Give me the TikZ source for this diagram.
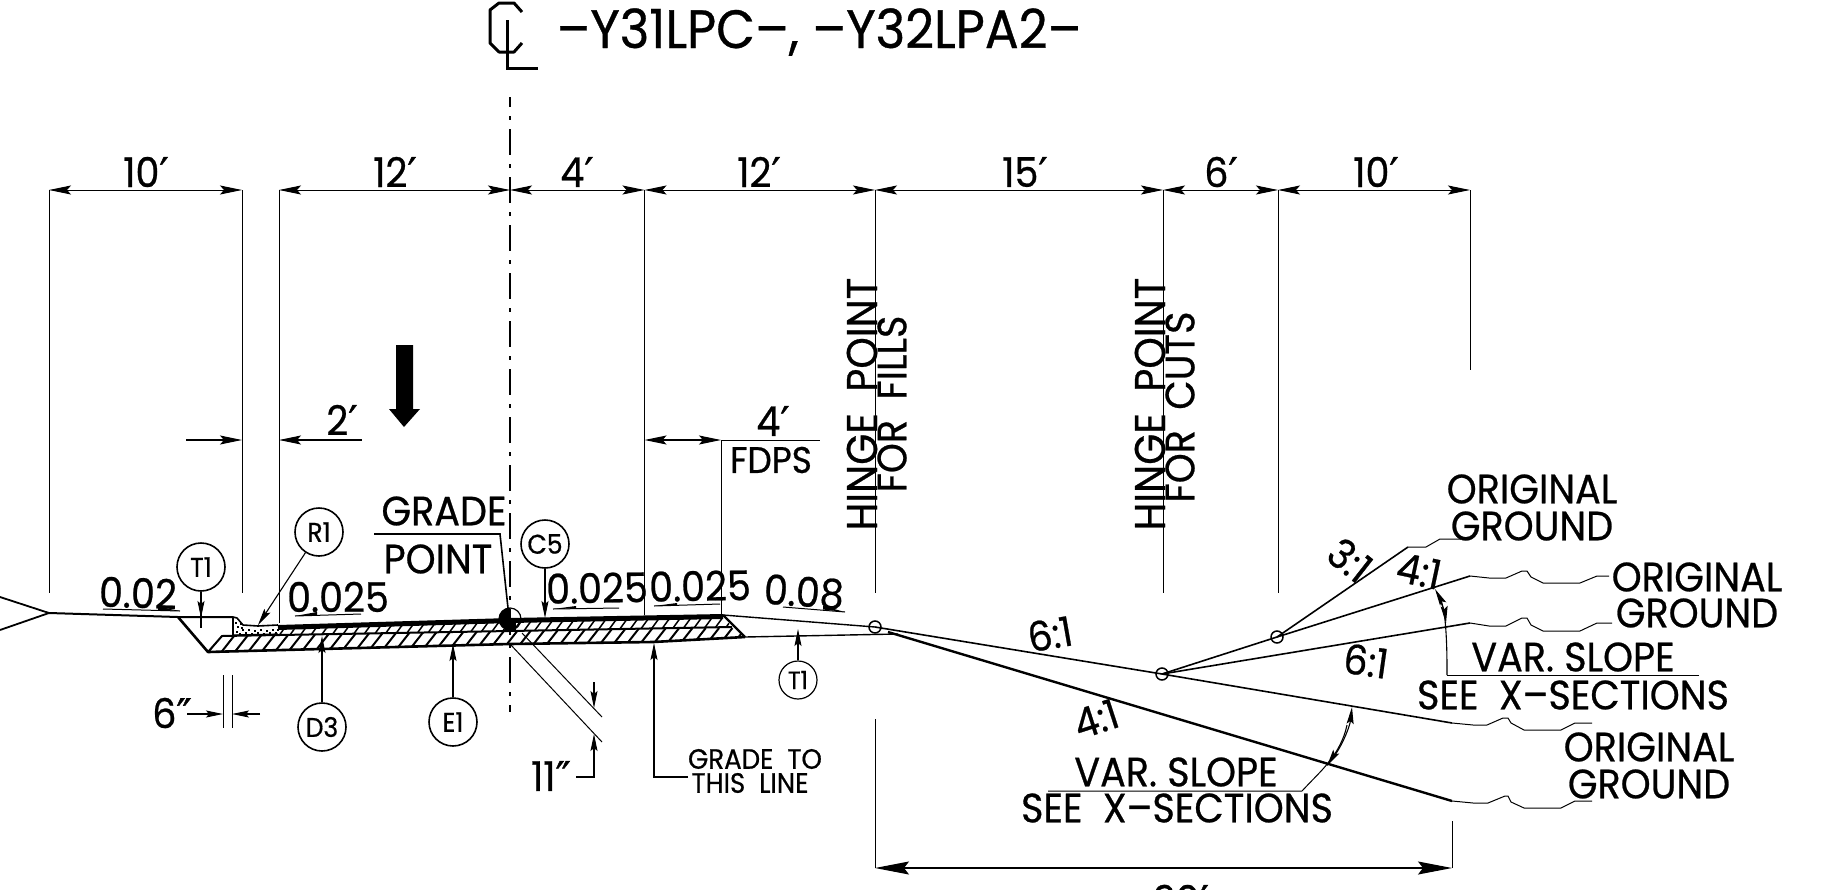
\documentclass[tikz,border=0pt]{standalone}
\usepackage{fontspec}
\usetikzlibrary{arrows.meta,patterns,calc}
\setmainfont[FakeBold=0.6,FakeStretch=0.93]{Poppins}
\newfontfamily\prmfont[FakeBold=1]{DejaVu Sans}
\newcommand{\pr}{{\prmfont\char"2032}}
\newcommand{\dpr}{{\prmfont\char"2033}}
\tikzset{
  x=1pt,y=-1pt,
  dimtip/.tip={Stealth[length=22pt,width=9pt,inset=4pt]},
  smalltip/.tip={Stealth[length=17pt,width=7pt,inset=3pt]},
  bigtip/.tip={Stealth[length=34pt,width=13pt,inset=5pt]},
  dimline/.style={line width=1pt,dimtip-dimtip},
  ext/.style={line width=1pt},
  lead/.style={line width=1.1pt,-smalltip},
  ground/.style={line width=1pt,line join=round},
  road/.style={line width=2.6pt,line join=round},
  bubble/.style={circle,draw,line width=1.6pt,minimum size=48pt,inner sep=0pt,font=\fontsize{27}{27}\selectfont},
  smallbubble/.style={circle,draw,line width=1.2pt,minimum size=38pt,inner sep=0pt,font=\fontsize{25}{25}\selectfont},
  hinge/.style={circle,draw,line width=1.5pt,minimum size=12pt,inner sep=0pt},
  lab/.style={inner sep=0pt,font=\fontsize{41}{41}\selectfont},
  slope/.style={inner sep=0pt,font=\fontsize{41}{41}\selectfont},
  small/.style={inner sep=0pt,font=\fontsize{28}{28}\selectfont},
}
\begin{document}
\begin{tikzpicture}[x=1pt,y=-1pt]
\useasboundingbox (0,0) rectangle (1831,889);
\clip (0,0) rectangle (1831,889);
\fill[white] (0,0) rectangle (1831,889);
% centreline symbol and title
\draw[line width=3pt,line join=bevel] (522,12)--(514,3)--(499,3)--(490,10)--(490,43)--(499,52)--(514,52)--(522,43);
\draw[line width=3pt,line join=miter] (507,20)--(507,68)--(538,68);
\node[inner sep=0pt,font=\fontsize{54}{54}\selectfont] (title) at (819,32) {–Y31LPC–, –Y32LPA2–};
% dimension line
\foreach \n/\xx in {a/49,b/242,c/279,d/510,e/644.5,f/875,g/1163,h/1278,i/1470}{\coordinate (t\n) at (\xx,190);}
\draw[dimline] (ta)--(tb);
\draw[dimline] (tc)--(td);
\draw[dimline] (td)--(te);
\draw[dimline] (te)--(tf);
\draw[dimline] (tf)--(tg);
\draw[dimline] (tg)--(th);
\draw[dimline] (th)--(ti);
\draw[ext] (ta)--(49,593) (tb)--(242,593) (tc)--(279,623) (te)--(644.5,615) (tf)--(875,593) (tg)--(1163,593) (th)--(1278,593) (ti)--(1470,370);
\node[lab] (d1) at (146,172) {10\pr};
\node[lab] (d2) at (395,172) {12\pr};
\node[lab] (d3) at (577,172) {4\pr};
\node[lab] (d4) at (759,172) {12\pr};
\node[lab] (d5) at (1025,172) {15\pr};
\node[lab] (d6) at (1221,172) {6\pr};
\node[lab] (d7) at (1376,172) {10\pr};
% centreline
\draw[line width=2pt,dash pattern=on 26pt off 9pt on 4pt off 9pt,dash phase=16pt] (510,97)--(510,712);
% black arrow
\fill (396,345)--(413,345)--(413,409)--(420,409)--(404,427)--(389,409)--(396,409)--cycle;
% 2' and 4'
\draw[lead,dimtip-] (242,440)--(186,440);
\draw[lead,dimtip-] (279,440)--(362,440);
\node[lab] (two) at (342,420) {2\pr};
\draw[line width=1.1pt,dimtip-dimtip] (644.5,440)--(721,440);
\draw[ext] (721,440)--(820,440) (721,440)--(721,615);
\node[lab] (four) at (773,421) {4\pr};
\node[lab,font=\fontsize{37}{37}\selectfont] (fdps) at (771,460) {FDPS};
% hinge text
\node[lab,rotate=90,font=\fontsize{43}{43}\selectfont] (hf1) at (862,404) {HINGE\ \ POINT};
\node[lab,rotate=90,font=\fontsize{41}{41}\selectfont] (hf2) at (892,404) {FOR\ \ FILLS};
\node[lab,rotate=90,font=\fontsize{43}{43}\selectfont] (hc1) at (1150,404) {HINGE\ \ POINT};
\node[lab,rotate=90,font=\fontsize{41}{41}\selectfont] (hc2) at (1180,407) {FOR\ \ CUTS};
% road structure: hatched layers
\begin{scope}
\clip (208,652)--(222,636)--(510,631)--(732,627)--(745,637)--(653,642)--(510,644)--cycle;
\foreach \k in {0,...,42}{\draw[line width=2pt] ({205+\k*13.3},656)--({205+\k*13.3+22},628);}
\end{scope}
\begin{scope}
\clip (278,630)--(510,622)--(723,618)--(733,627)--(510,631)--(278,635)--cycle;
\foreach \k in {0,...,46}{\draw[line width=1.5pt] ({278+\k*10.5},637)--({278+\k*10.5+16},615);}
\end{scope}
\draw[road] (178,617)--(208,652)--(510,644)--(653,642)--(745,637);
\draw[line width=2pt] (208,652)--(222,636)--(510,631)--(732,627);
\draw[line width=2.4pt] (723,615)--(745,637);
\draw[line width=5pt] (278,627.5)--(510,620.5)--(723,616.5);
% shoulder and ground
\draw[line width=1.8pt] (0,597)--(49,613)--(0,630);
\draw[line width=2pt,line join=round] (49,613)--(178,617)--(233,617);
\draw[line width=1.6pt,line join=round] (233,617)--(237,618)--(243,625)--(258,626)--(278,625);
\draw[line width=1.2pt] (233,618)--(233,635);
% stippled curb
\foreach \a/\b in {235/622,237/626,240/623,236/631,239/633,242/629,245/632,248/629,251/633,254/630,257/632,260/629,263/633,266/630,269/632,272/629,275/632,277/629,246/634,258/634,270/634,241/627}{
  \fill (\a,\b) rectangle ++(2.4,1.8);}
\draw[line width=1.2pt] (233,635)--(278,634);
% right shoulder
\node[hinge] (hp1) at (875,627) {};
\node[hinge] (hp2) at (1162,674) {};
\node[hinge] (hp3) at (1277,637) {};
\draw[line width=1.4pt] (723,615)--(hp1.center);
\draw[line width=1.4pt] (745,637)--(898,634);
% fill slope 6:1 and cut slopes
\draw[line width=1.6pt] (hp1.center)--(hp2.center);
\draw[line width=1.6pt] (hp2.center)--(1452,723);
\draw[ground] (1452,723)--(1473,725)--(1487,725)--(1503,718)--(1508,718)--(1511,723)--(1524,730)--(1561,730)--(1575,723)--(1592,723);
\draw[line width=2.4pt] (888,632)--(1452,801);
\draw[ground] (1452,801)--(1473,803)--(1488,803)--(1505,796)--(1508,796)--(1511,802)--(1524,808)--(1561,808)--(1575,801)--(1592,801);
\draw[line width=1.6pt] (hp2.center)--(1470,623);
\draw[ground] (1470,623)--(1489,626)--(1506,626)--(1522,618)--(1527,618)--(1531,625)--(1543,631)--(1580,631)--(1597,623)--(1612,623);
\draw[line width=1.6pt] (hp2.center)--(hp3.center)--(1470,576);
\draw[ground] (1470,576)--(1489,578)--(1506,578)--(1522,571)--(1527,571)--(1531,577)--(1543,583)--(1580,583)--(1597,576)--(1609,576);
\draw[line width=1.6pt] (hp3.center)--(1408,547);
\draw[ground] (1408,547)--(1426,547)--(1440,539)--(1461,539);
% centre point
\node[circle,draw,line width=1.2pt,minimum size=22pt,inner sep=0pt] (cp) at (510,619) {};
\fill (510,608) arc[start angle=90,end angle=270,radius=11pt]--cycle;
\fill (505,619) rectangle (516,630);
% grade point
\draw[line width=1.6pt] (374,534)--(500,534)--(508,608);
\node[lab] (gr) at (444,511) {GRADE};
\node[lab] (pt) at (438,559) {POINT};
% bubbles
\node[bubble] (T1a) at (201,567) {T1};
\node[bubble] (R1) at (319,532) {R1};
\node[bubble] (D3) at (322,727) {D3};
\node[bubble] (E1) at (453,722) {E1};
\node[bubble] (C5) at (545,544) {C5};
\node[smallbubble] (T1b) at (798,680) {T1};
\coordinate (tT1a) at (201,618);
\coordinate (tR1) at (258,625);
\coordinate (tD3) at (322,636);
\coordinate (tE1) at (453,644);
\coordinate (tC5) at (545,618);
\coordinate (tT1b) at (798,629);
\draw[line width=1.1pt] (T1a)--(201,628);
\draw[lead] (T1a)--(tT1a);
\draw[lead] (R1)--(tR1);
\draw[lead] (D3)--(tD3);
\draw[lead] (E1)--(tE1);
\draw[lead] (C5)--(tC5);
\draw[lead] (T1b)--(tT1b);
% 6"
\draw[ext] (223,675)--(223,728) (232,675)--(232,728);
\draw[lead] (187,714)--(223,714);
\draw[lead] (260,714)--(232,714);
\node[lab] (six) at (172,713) {6\dpr};
% 11"
\draw[ext] (510,644)--(602,742) (522,633)--(602,717);
\draw[lead] (594,682)--(594,708);
\draw[lead] (576,777)--(594,777)--(594,734);
\node[lab] (elev) at (551,776) {11\dpr};
% grade to this line
\node[small] (gt) at (755,759) {GRADE\ \ TO};
\node[small] (tl) at (750,783) {THIS\ \ LINE};
\draw[lead] (688,777)--(654,777)--(654,643);
% slope labels
\node[slope,rotate=-2] (s1) at (138,593) {0.02};
\node[slope] (s2) at (338,597) {0.025};
\node[slope,rotate=1] (s3) at (597,588) {0.025};
\node[slope,rotate=1] (s4) at (700,586) {0.025};
\node[slope,rotate=-4] (s5) at (804,592) {0.08};
\draw[ext] (103,609)--(180,611); \fill (158,606.5)--(180,611)--(158,610)--cycle;
\draw[ext] (295,616)--(361,614); \fill (295,616)--(317,612)--(317,615.5)--cycle;
\draw[ext] (553,609)--(619,608); \fill (553,609)--(576,606)--(576,608.5)--cycle;
\draw[ext] (654,606)--(720,604); \fill (654,606)--(677,603)--(677,605.5)--cycle;
\draw[ext] (783,607)--(845,612); \fill (823,606)--(845,612)--(823,609.5)--cycle;
\node[slope,rotate=-38] (r31) at (1350,560) {3:1};
\node[slope,rotate=-12] (r41) at (1419,571) {4:1};
\node[slope,rotate=-8] (r61) at (1366,661) {6:1};
\node[slope,rotate=10] (f61) at (1050,634) {6:1};
\node[slope,rotate=18] (f41) at (1096,719) {4:1};
% original ground labels
\node[lab] (og1a) at (1532,489) {ORIGINAL};
\node[lab] (og1b) at (1532,526) {GROUND};
\node[lab] (og2a) at (1697,577) {ORIGINAL};
\node[lab] (og2b) at (1697,613) {GROUND};
\node[lab] (og3a) at (1649,747) {ORIGINAL};
\node[lab] (og3b) at (1649,784) {GROUND};
% var slope labels
\node[lab] (vs1) at (1573,657) {VAR.\ SLOPE};
\node[lab] (sx1) at (1573,695) {SEE\ \ X–SECTIONS};
\draw[ext] (1699,675)--(1447,675);
\draw[line width=1.1pt,smalltip-] (1435,589) .. controls (1441,600) and (1444,610) .. (1445,620);
\draw[line width=1.1pt,-smalltip] (1439,598) .. controls (1443,606) and (1445,614) .. (1446,623);
\draw[line width=1.1pt] (1445,620) .. controls (1447,640) and (1447,660) .. (1447,675);
\node[lab] (vs2) at (1176,772) {VAR.\ SLOPE};
\node[lab] (sx2) at (1177,808) {SEE\ \ X–SECTIONS};
\draw[ext] (1048,791)--(1302,791) .. controls (1315,777) and (1325,768) .. (1330,760);
\draw[line width=1.1pt,smalltip-] (1352,707) .. controls (1350,725) and (1344,742) .. (1335,755);
\draw[line width=1.1pt,-smalltip] (1347,725) .. controls (1344,740) and (1336,752) .. (1327,766);
% bottom dimension
\coordinate (bl) at (875,868);
\coordinate (br) at (1452,868);
\draw[ext] (875,719)--(bl) (1452,821)--(br);
\draw[line width=1.1pt,bigtip-bigtip] (bl)--(br);
\node[lab] (bot) at (1181,900) {30\pr};
\end{tikzpicture}
\end{document}
